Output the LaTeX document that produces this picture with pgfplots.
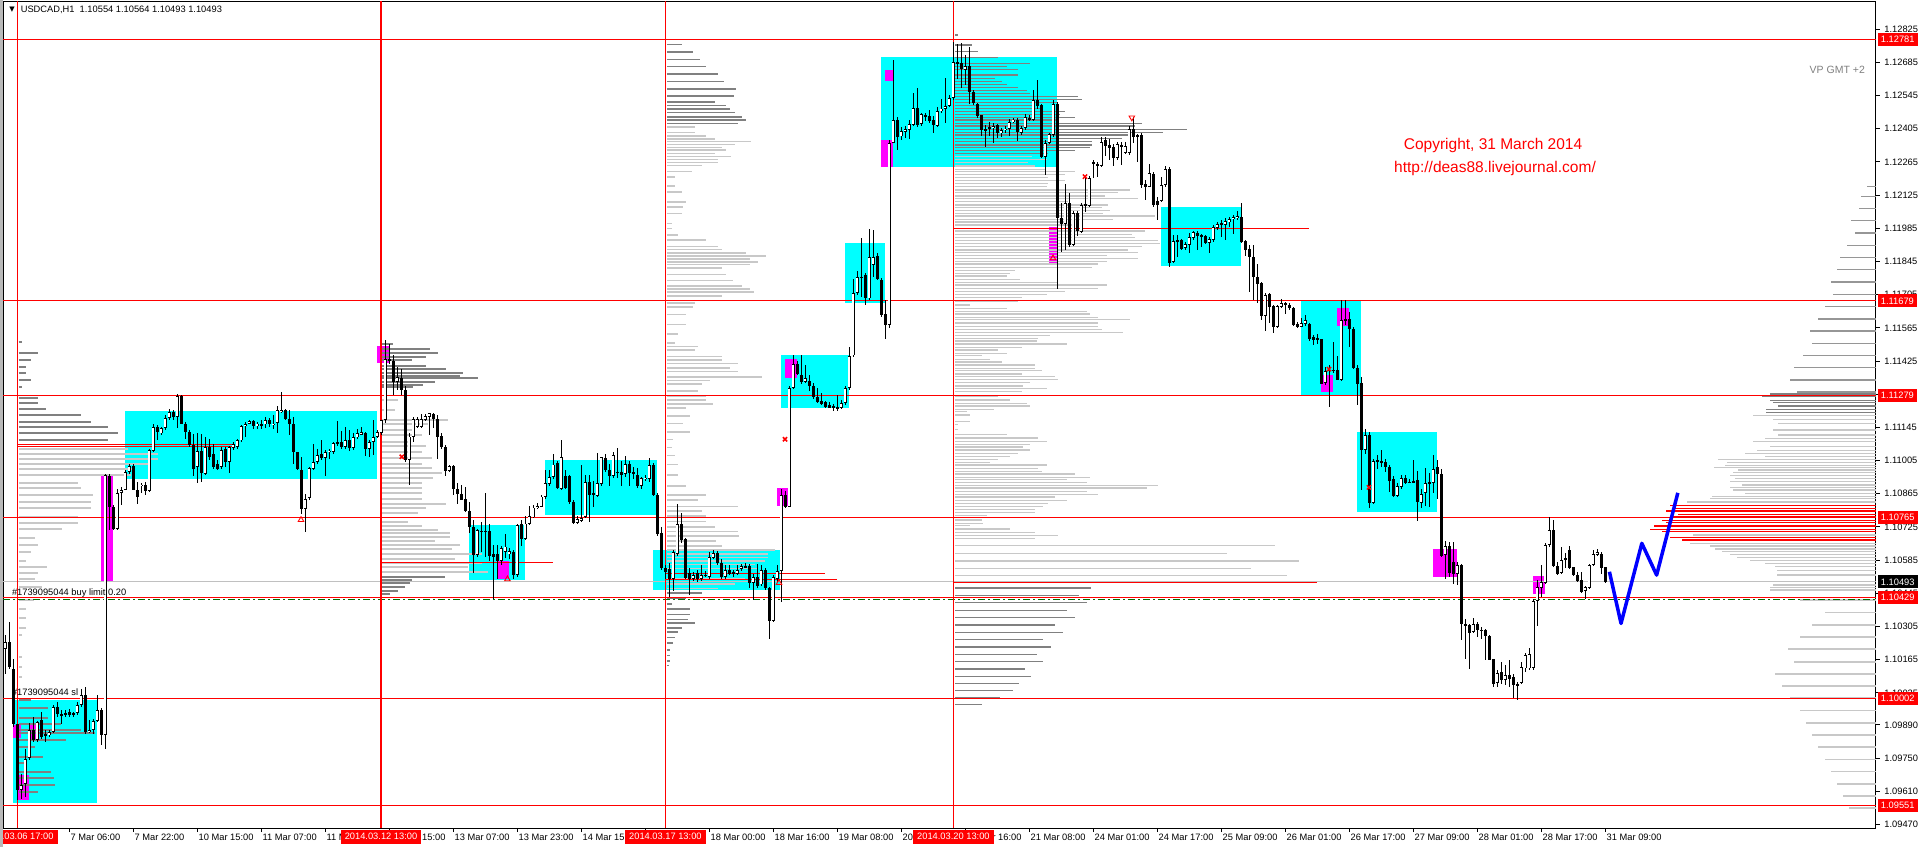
\documentclass[border=0pt]{standalone}
\usepackage{pgfplots}
\pgfplotsset{compat=1.18}
\usepackage{pgfplotstable}
\usepackage{fontspec}
\setmainfont{Liberation Sans}
\newfontfamily\dejavu{DejaVu Sans}
\definecolor{mtcyan}{RGB}{0,255,255}
\definecolor{mtmag}{RGB}{255,0,255}
\definecolor{vpdark}{RGB}{128,128,128}
\definecolor{vpmid}{RGB}{150,150,150}
\definecolor{vplight}{RGB}{200,200,200}
\definecolor{bidgray}{RGB}{192,192,192}
\definecolor{ordgreen}{RGB}{0,110,0}
\definecolor{mtred}{RGB}{255,0,0}
\definecolor{mtblue}{RGB}{0,0,255}
\newcommand{\lbl}{\fontsize{9.3bp}{11bp}\selectfont}

\pgfplotstableread{
k o h l c
0 1.10213 1.10269 1.10107 1.10241
1 1.10241 1.10325 1.10128 1.10135
2 1.10128 1.10171 1.09882 1.09896
3 1.09896 1.09896 1.09573 1.09615
4 1.09615 1.09685 1.09580 1.09636
5 1.09643 1.09791 1.09587 1.09749
6 1.09749 1.09896 1.09742 1.09868
7 1.09868 1.09924 1.09819 1.09826
8 1.09826 1.09910 1.09819 1.09903
9 1.09910 1.09946 1.09833 1.09840
10 1.09854 1.09868 1.09819 1.09843
11 1.09847 1.09868 1.09840 1.09861
12 1.09861 1.09974 1.09854 1.09967
13 1.09967 1.09988 1.09924 1.09939
14 1.09939 1.09953 1.09896 1.09929
15 1.09939 1.09953 1.09924 1.09932
16 1.09943 1.09960 1.09924 1.09934
17 1.09939 1.09946 1.09924 1.09932
18 1.09939 1.09988 1.09932 1.09974
19 1.09974 1.10044 1.09967 1.10016
20 1.10016 1.10051 1.09854 1.09861
21 1.09861 1.09910 1.09854 1.09871
22 1.09868 1.09917 1.09854 1.09908
23 1.09910 1.10016 1.09903 1.09953
24 1.09953 1.09960 1.09805 1.09847
25 1.09847 1.10951 1.09791 1.10944
26 1.10940 1.10951 1.10712 1.10810
27 1.10810 1.10817 1.10712 1.10719
28 1.10719 1.10888 1.10712 1.10869
29 1.10869 1.10895 1.10817 1.10883
30 1.10883 1.10965 1.10881 1.10958
31 1.10958 1.10993 1.10951 1.10982
32 1.10982 1.10993 1.10881 1.10883
33 1.10883 1.10916 1.10822 1.10852
34 1.10897 1.10912 1.10867 1.10904
35 1.10904 1.10916 1.10859 1.10878
36 1.10878 1.11056 1.10874 1.11049
37 1.11046 1.11162 1.11042 1.11148
38 1.11148 1.11155 1.11091 1.11127
39 1.11120 1.11148 1.11113 1.11141
40 1.11141 1.11197 1.11134 1.11183
41 1.11183 1.11225 1.11179 1.11211
42 1.11211 1.11218 1.11176 1.11190
43 1.11190 1.11288 1.11141 1.11277
44 1.11277 1.11284 1.11159 1.11162
45 1.11162 1.11169 1.11099 1.11127
46 1.11127 1.11134 1.11063 1.11070
47 1.11070 1.11120 1.10944 1.10972
48 1.10979 1.11120 1.10909 1.11046
49 1.11046 1.11120 1.10916 1.10951
50 1.10951 1.11106 1.10944 1.11063
51 1.11063 1.11099 1.11007 1.11021
52 1.11035 1.11077 1.10972 1.10979
53 1.10990 1.11010 1.10965 1.10972
54 1.10979 1.11063 1.10972 1.11052
55 1.11052 1.11063 1.10979 1.11000
56 1.11000 1.11070 1.10954 1.11063
57 1.11061 1.11084 1.11049 1.11075
58 1.11063 1.11099 1.11056 1.11091
59 1.11091 1.11155 1.11084 1.11151
60 1.11151 1.11169 1.11108 1.11159
61 1.11162 1.11179 1.11159 1.11173
62 1.11173 1.11179 1.11141 1.11151
63 1.11151 1.11169 1.11141 1.11162
64 1.11162 1.11176 1.11141 1.11153
65 1.11159 1.11190 1.11141 1.11176
66 1.11176 1.11187 1.11148 1.11159
67 1.11159 1.11197 1.11141 1.11162
68 1.11162 1.11235 1.11122 1.11218
69 1.11211 1.11294 1.11207 1.11218
70 1.11218 1.11225 1.11176 1.11183
71 1.11183 1.11221 1.11113 1.11162
72 1.11162 1.11190 1.10993 1.11042
73 1.11042 1.11042 1.10965 1.10968
74 1.10968 1.11021 1.10782 1.10803
75 1.10803 1.10867 1.10705 1.10845
76 1.10845 1.10979 1.10838 1.10972
77 1.10972 1.11077 1.10965 1.11000
78 1.11000 1.11056 1.10993 1.11028
79 1.11032 1.11094 1.11007 1.11018
80 1.11018 1.11049 1.10940 1.11042
81 1.11042 1.11056 1.11014 1.11049
82 1.11042 1.11084 1.11035 1.11080
83 1.11084 1.11173 1.11070 1.11080
84 1.11084 1.11131 1.11056 1.11063
85 1.11063 1.11148 1.11056 1.11094
86 1.11094 1.11134 1.11046 1.11061
87 1.11056 1.11122 1.11049 1.11103
88 1.11103 1.11141 1.11099 1.11120
89 1.11117 1.11148 1.11113 1.11127
90 1.11122 1.11127 1.11028 1.11056
91 1.11056 1.11091 1.11021 1.11084
92 1.11084 1.11176 1.11028 1.11106
93 1.11106 1.11134 1.11099 1.11127
94 1.11122 1.11179 1.11113 1.11176
95 1.11176 1.11516 1.11165 1.11432
96 1.11432 1.11499 1.11415 1.11426
97 1.11426 1.11450 1.11281 1.11338
98 1.11338 1.11401 1.11302 1.11359
99 1.11356 1.11394 1.11281 1.11302
100 1.11302 1.11319 1.11000 1.11007
101 1.11007 1.11122 1.10902 1.11106
102 1.11106 1.11190 1.11084 1.11179
103 1.11148 1.11190 1.11141 1.11179
104 1.11148 1.11204 1.11141 1.11179
105 1.11179 1.11204 1.11173 1.11193
106 1.11190 1.11207 1.11113 1.11204
107 1.11204 1.11207 1.11141 1.11179
108 1.11179 1.11197 1.11014 1.11106
109 1.11108 1.11122 1.11056 1.11063
110 1.11063 1.11070 1.10940 1.10962
111 1.10962 1.10986 1.10958 1.10982
112 1.10982 1.10986 1.10860 1.10888
113 1.10888 1.10909 1.10824 1.10864
114 1.10864 1.10902 1.10838 1.10841
115 1.10841 1.10895 1.10789 1.10793
116 1.10793 1.10831 1.10698 1.10726
117 1.10726 1.10754 1.10532 1.10606
118 1.10606 1.10715 1.10599 1.10712
119 1.10710 1.10748 1.10620 1.10703
120 1.10710 1.10869 1.10597 1.10703
121 1.10710 1.10740 1.10582 1.10605
122 1.10612 1.10650 1.10424 1.10600
123 1.10612 1.10650 1.10507 1.10582
124 1.10582 1.10646 1.10567 1.10635
125 1.10620 1.10695 1.10597 1.10643
126 1.10612 1.10635 1.10590 1.10624
127 1.10620 1.10627 1.10507 1.10522
128 1.10522 1.10740 1.10514 1.10733
129 1.10736 1.10756 1.10643 1.10673
130 1.10673 1.10771 1.10673 1.10740
131 1.10740 1.10816 1.10733 1.10771
132 1.10766 1.10816 1.10763 1.10808
133 1.10808 1.10828 1.10801 1.10813
134 1.10811 1.10861 1.10808 1.10854
135 1.10854 1.10967 1.10846 1.10909
136 1.10906 1.10967 1.10899 1.10936
137 1.10936 1.11034 1.10929 1.10989
138 1.10997 1.11004 1.10884 1.10891
139 1.10887 1.11092 1.10881 1.11019
140 1.10941 1.10967 1.10884 1.10891
141 1.10941 1.10944 1.10823 1.10831
142 1.10831 1.10838 1.10740 1.10744
143 1.10744 1.10771 1.10740 1.10759
144 1.10751 1.10989 1.10748 1.10766
145 1.10766 1.10944 1.10763 1.10914
146 1.10914 1.10944 1.10748 1.10861
147 1.10869 1.10921 1.10808 1.10861
148 1.10857 1.11037 1.10854 1.10909
149 1.10906 1.11022 1.10899 1.11019
150 1.11019 1.11034 1.10959 1.10967
151 1.10967 1.10989 1.10899 1.10941
152 1.10941 1.11042 1.10932 1.11030
153 1.10959 1.11061 1.10932 1.10954
154 1.10956 1.11004 1.10899 1.10944
155 1.10947 1.11027 1.10936 1.10989
156 1.10989 1.11004 1.10899 1.10951
157 1.10956 1.10977 1.10929 1.10947
158 1.10947 1.10974 1.10891 1.10899
159 1.10899 1.10936 1.10884 1.10932
160 1.10929 1.10944 1.10921 1.10932
161 1.10929 1.11016 1.10917 1.10986
162 1.10986 1.10997 1.10857 1.10861
163 1.10861 1.10869 1.10688 1.10695
164 1.10703 1.10725 1.10545 1.10552
165 1.10552 1.10567 1.10507 1.10537
166 1.10549 1.10575 1.10431 1.10507
167 1.10507 1.10627 1.10454 1.10620
168 1.10612 1.10823 1.10605 1.10736
169 1.10736 1.10786 1.10658 1.10670
170 1.10673 1.10680 1.10507 1.10510
171 1.10529 1.10552 1.10439 1.10507
172 1.10507 1.10537 1.10499 1.10525
173 1.10529 1.10545 1.10492 1.10507
174 1.10507 1.10564 1.10499 1.10522
175 1.10525 1.10540 1.10514 1.10519
176 1.10514 1.10620 1.10507 1.10597
177 1.10597 1.10627 1.10590 1.10615
178 1.10615 1.10624 1.10567 1.10575
179 1.10575 1.10590 1.10507 1.10513
180 1.10513 1.10567 1.10507 1.10545
181 1.10545 1.10567 1.10525 1.10529
182 1.10534 1.10545 1.10514 1.10525
183 1.10529 1.10567 1.10522 1.10545
184 1.10549 1.10570 1.10540 1.10560
185 1.10560 1.10575 1.10554 1.10557
186 1.10560 1.10567 1.10469 1.10489
187 1.10489 1.10529 1.10416 1.10514
188 1.10514 1.10567 1.10469 1.10477
189 1.10484 1.10564 1.10477 1.10545
190 1.10545 1.10552 1.10462 1.10469
191 1.10469 1.10474 1.10251 1.10329
192 1.10329 1.10522 1.10326 1.10514
193 1.10507 1.10567 1.10492 1.10540
194 1.10540 1.10884 1.10409 1.10861
195 1.10861 1.10876 1.10808 1.10811
196 1.10811 1.11321 1.10808 1.11313
197 1.11313 1.11449 1.11305 1.11414
198 1.11414 1.11426 1.11366 1.11373
199 1.11366 1.11449 1.11328 1.11336
200 1.11336 1.11411 1.11333 1.11354
201 1.11343 1.11366 1.11298 1.11321
202 1.11321 1.11336 1.11268 1.11272
203 1.11272 1.11313 1.11248 1.11253
204 1.11257 1.11290 1.11238 1.11245
205 1.11253 1.11257 1.11227 1.11233
206 1.11242 1.11253 1.11227 1.11230
207 1.11238 1.11245 1.11215 1.11227
208 1.11233 1.11283 1.11215 1.11227
209 1.11227 1.11260 1.11223 1.11248
210 1.11248 1.11321 1.11242 1.11313
211 1.11313 1.11486 1.11305 1.11449
212 1.11449 1.11773 1.11444 1.11712
213 1.11712 1.11803 1.11705 1.11780
214 1.11781 1.11943 1.11697 1.11779
215 1.11788 1.11795 1.11662 1.11690
216 1.11690 1.11981 1.11683 1.11866
217 1.11831 1.11978 1.11781 1.11866
218 1.11869 1.11880 1.11767 1.11770
219 1.11770 1.11774 1.11613 1.11620
220 1.11624 1.11683 1.11521 1.11578
221 1.11578 1.12358 1.11563 1.12347
222 1.12347 1.12698 1.12344 1.12442
223 1.12442 1.12456 1.12316 1.12372
224 1.12372 1.12414 1.12358 1.12393
225 1.12393 1.12417 1.12365 1.12403
226 1.12400 1.12442 1.12361 1.12425
227 1.12421 1.12555 1.12417 1.12496
228 1.12496 1.12576 1.12414 1.12421
229 1.12425 1.12473 1.12417 1.12466
230 1.12466 1.12473 1.12439 1.12456
231 1.12459 1.12484 1.12428 1.12439
232 1.12442 1.12459 1.12386 1.12421
233 1.12417 1.12496 1.12411 1.12482
234 1.12482 1.12531 1.12470 1.12491
235 1.12491 1.12618 1.12428 1.12501
236 1.12501 1.12548 1.12496 1.12534
237 1.12534 1.12773 1.12527 1.12688
238 1.12688 1.12766 1.12618 1.12681
239 1.12681 1.12768 1.12576 1.12656
240 1.12656 1.12716 1.12590 1.12670
241 1.12670 1.12752 1.12512 1.12562
242 1.12562 1.12569 1.12505 1.12512
243 1.12510 1.12516 1.12449 1.12459
244 1.12463 1.12466 1.12375 1.12400
245 1.12403 1.12421 1.12330 1.12397
246 1.12414 1.12435 1.12375 1.12407
247 1.12411 1.12428 1.12347 1.12417
248 1.12421 1.12425 1.12369 1.12389
249 1.12389 1.12407 1.12372 1.12400
250 1.12400 1.12417 1.12386 1.12407
251 1.12407 1.12445 1.12375 1.12435
252 1.12435 1.12453 1.12428 1.12445
253 1.12445 1.12448 1.12351 1.12393
254 1.12389 1.12417 1.12379 1.12407
255 1.12407 1.12466 1.12400 1.12453
256 1.12453 1.12463 1.12439 1.12445
257 1.12445 1.12569 1.12439 1.12527
258 1.12527 1.12611 1.12487 1.12501
259 1.12505 1.12510 1.12281 1.12288
260 1.12288 1.12358 1.12210 1.12344
261 1.12344 1.12389 1.12341 1.12383
262 1.12379 1.12527 1.12372 1.12510
263 1.12510 1.12520 1.11732 1.12027
264 1.12027 1.12091 1.11887 1.12004
265 1.12004 1.12175 1.11894 1.12091
266 1.12091 1.12133 1.11908 1.11915
267 1.11915 1.12060 1.11911 1.12051
268 1.12051 1.12060 1.11953 1.11975
269 1.11971 1.12091 1.11964 1.12084
270 1.12088 1.12203 1.12056 1.12082
271 1.12082 1.12206 1.12077 1.12200
272 1.12266 1.12274 1.12200 1.12257
273 1.12259 1.12266 1.12200 1.12250
274 1.12250 1.12372 1.12245 1.12351
275 1.12358 1.12369 1.12290 1.12333
276 1.12337 1.12365 1.12274 1.12323
277 1.12330 1.12341 1.12248 1.12281
278 1.12281 1.12351 1.12274 1.12341
279 1.12337 1.12351 1.12252 1.12330
280 1.12302 1.12351 1.12299 1.12333
281 1.12302 1.12417 1.12295 1.12403
282 1.12403 1.12456 1.12347 1.12372
283 1.12379 1.12386 1.12266 1.12372
284 1.12379 1.12386 1.12154 1.12168
285 1.12175 1.12189 1.12105 1.12161
286 1.12161 1.12257 1.12158 1.12217
287 1.12217 1.12224 1.12077 1.12084
288 1.12102 1.12119 1.12020 1.12084
289 1.12102 1.12203 1.12098 1.12168
290 1.12168 1.12248 1.12161 1.12234
291 1.12238 1.12245 1.11824 1.11840
292 1.11845 1.11957 1.11838 1.11933
293 1.11936 1.11957 1.11866 1.11929
294 1.11936 1.11943 1.11894 1.11901
295 1.11901 1.11929 1.11894 1.11919
296 1.11915 1.11964 1.11883 1.11947
297 1.11947 1.11975 1.11936 1.11971
298 1.11964 1.11975 1.11894 1.11953
299 1.11957 1.11964 1.11908 1.11950
300 1.11953 1.11957 1.11919 1.11922
301 1.11922 1.11947 1.11880 1.11939
302 1.11936 1.11999 1.11929 1.11992
303 1.11989 1.12013 1.11978 1.12006
304 1.12009 1.12020 1.11950 1.11999
305 1.11999 1.12027 1.11936 1.12016
306 1.12013 1.12032 1.11992 1.12023
307 1.12023 1.12041 1.11964 1.12032
308 1.12032 1.12056 1.12020 1.12037
309 1.12034 1.12093 1.11925 1.11929
310 1.11933 1.11936 1.11869 1.11894
311 1.11897 1.11915 1.11718 1.11863
312 1.11863 1.11915 1.11683 1.11779
313 1.11779 1.11835 1.11672 1.11753
314 1.11756 1.11760 1.11599 1.11616
315 1.11616 1.11711 1.11554 1.11704
316 1.11708 1.11714 1.11585 1.11655
317 1.11658 1.11662 1.11545 1.11568
318 1.11571 1.11662 1.11563 1.11658
319 1.11655 1.11686 1.11648 1.11672
320 1.11672 1.11676 1.11624 1.11662
321 1.11662 1.11669 1.11641 1.11648
322 1.11648 1.11652 1.11573 1.11578
323 1.11582 1.11592 1.11563 1.11568
324 1.11571 1.11606 1.11568 1.11587
325 1.11585 1.11620 1.11573 1.11599
326 1.11582 1.11585 1.11511 1.11517
327 1.11525 1.11535 1.11493 1.11514
328 1.11525 1.11540 1.11497 1.11517
329 1.11517 1.11521 1.11329 1.11331
330 1.11331 1.11402 1.11324 1.11381
331 1.11390 1.11409 1.11233 1.11385
332 1.11390 1.11507 1.11374 1.11385
333 1.11387 1.11447 1.11345 1.11348
334 1.11345 1.11682 1.11342 1.11598
335 1.11602 1.11682 1.11577 1.11594
336 1.11602 1.11633 1.11485 1.11563
337 1.11563 1.11570 1.11394 1.11398
338 1.11398 1.11408 1.11239 1.11331
339 1.11331 1.11359 1.10883 1.11052
340 1.11052 1.11141 1.11035 1.11113
341 1.11113 1.11127 1.10803 1.10827
342 1.10827 1.11014 1.10824 1.11004
343 1.11007 1.11028 1.10972 1.10999
344 1.11003 1.11049 1.10979 1.10997
345 1.10999 1.11014 1.10958 1.10979
346 1.10979 1.10986 1.10874 1.10920
347 1.10926 1.10940 1.10852 1.10855
348 1.10855 1.10909 1.10852 1.10898
349 1.10895 1.10944 1.10888 1.10934
350 1.10934 1.10944 1.10909 1.10912
351 1.10916 1.10930 1.10909 1.10912
352 1.10919 1.11010 1.10909 1.10913
353 1.10923 1.10962 1.10751 1.10832
354 1.10827 1.10888 1.10808 1.10867
355 1.10867 1.10976 1.10813 1.10912
356 1.10916 1.10954 1.10810 1.10909
357 1.10912 1.11028 1.10869 1.10972
358 1.10976 1.11007 1.10846 1.10948
359 1.10951 1.10972 1.10599 1.10606
360 1.10606 1.10667 1.10508 1.10645
361 1.10645 1.10663 1.10515 1.10529
362 1.10578 1.10663 1.10487 1.10529
363 1.10529 1.10578 1.10480 1.10564
364 1.10564 1.10571 1.10248 1.10318
365 1.10318 1.10339 1.10171 1.10308
366 1.10311 1.10318 1.10128 1.10279
367 1.10283 1.10339 1.10279 1.10318
368 1.10318 1.10325 1.10262 1.10290
369 1.10293 1.10304 1.10255 1.10287
370 1.10293 1.10297 1.10166 1.10265
371 1.10265 1.10269 1.10164 1.10166
372 1.10166 1.10171 1.10051 1.10062
373 1.10068 1.10121 1.10051 1.10110
374 1.10114 1.10157 1.10065 1.10079
375 1.10079 1.10143 1.10058 1.10100
376 1.10100 1.10164 1.10051 1.10086
377 1.10093 1.10107 1.10002 1.10058
378 1.10065 1.10072 1.09995 1.10058
379 1.10068 1.10157 1.10065 1.10136
380 1.10129 1.10195 1.10114 1.10185
381 1.10129 1.10213 1.10124 1.10189
382 1.10133 1.10424 1.10122 1.10414
383 1.10414 1.10501 1.10307 1.10470
384 1.10470 1.10564 1.10431 1.10494
385 1.10490 1.10656 1.10487 1.10649
386 1.10649 1.10768 1.10642 1.10712
387 1.10712 1.10754 1.10557 1.10560
388 1.10560 1.10578 1.10522 1.10529
389 1.10532 1.10642 1.10529 1.10588
390 1.10597 1.10614 1.10550 1.10588
391 1.10630 1.10645 1.10550 1.10555
392 1.10555 1.10557 1.10518 1.10522
393 1.10526 1.10536 1.10494 1.10497
394 1.10501 1.10536 1.10445 1.10452
395 1.10456 1.10480 1.10424 1.10470
396 1.10466 1.10571 1.10462 1.10564
397 1.10564 1.10630 1.10560 1.10611
398 1.10607 1.10630 1.10602 1.10621
399 1.10614 1.10621 1.10529 1.10555
400 1.10555 1.10557 1.10490 1.10494
}\candles

% volume profile P1 (anchored at 06.03 17:00)
\pgfplotstableread{
p len
1.11506 0.8
1.11460 4.8
1.11429 3.0
1.11401 1.9
1.11375 1.9
1.11345 3.0
1.11314 0.8
1.11271 4.8
1.11246 4.8
1.11221 6.9
1.11197 15.7
1.11169 18.0
1.11145 22.3
1.11120 24.8
1.11094 22.3
1.09995 3.0
1.09960 7.3
1.09918 7.3
1.09894 10.7
1.09868 15.7
1.09854 19.0
1.09826 11.9
1.09798 4.0
1.09756 6.1
1.09728 1.9
1.09693 8.0
1.09664 8.8
1.09636 9.0
1.09608 4.8
}\pAd
\pgfplotstableread{
p len
1.11052 27.3
1.11032 34.8
1.11010 34.8
1.10990 32.3
1.10968 29.0
1.10944 28.2
1.10911 14.8
1.10888 15.7
1.10860 18.6
1.10831 18.2
1.10803 18.2
1.10768 14.8
1.10740 14.8
1.10715 10.8
1.10677 4.0
1.10649 4.8
1.10620 3.0
1.10583 1.9
1.10557 7.0
1.10529 4.8
1.10504 4.0
1.10473 5.8
1.10417 3.8
1.10381 1.9
1.10339 1.9
1.10297 1.9
1.10269 0.8
1.10178 0.8
1.10135 0.8
1.10093 0.8
}\pAl
% P2
\pgfplotstableread{
p len
1.11499 2.7
1.11474 11.8
1.11460 13.9
1.11443 11.0
1.11429 7.3
1.11404 11.0
1.11390 16.0
1.11375 20.2
1.11364 19.3
1.11352 23.9
1.11338 13.1
1.11323 10.2
1.11314 7.7
1.10515 15.6
1.10501 7.3
1.10487 6.8
1.10473 5.6
1.10456 3.9
1.10442 1.8
}\pBd
\pgfplotstableread{
p len
1.11260 3.9
1.11218 3.1
1.11176 16.4
1.11159 11.4
1.11136 8.1
1.11113 9.8
1.11084 6.8
1.11066 11.0
1.11042 9.8
1.11018 12.3
1.10990 9.8
1.10972 12.3
1.10951 14.8
1.10930 12.7
1.10911 9.8
1.10888 9.8
1.10867 9.8
1.10845 9.8
1.10822 16.0
1.10803 11.0
1.10782 8.9
1.10747 6.4
1.10729 9.8
1.10712 13.9
1.10698 16.8
1.10681 16.8
1.10667 13.1
1.10649 19.3
1.10630 17.3
1.10613 24.8
1.10592 18.1
1.10571 24.8
1.10557 21.4
1.10536 26.4
}\pBl
% P3
\pgfplotstableread{
p len
1.12760 3.9
1.12729 6.6
1.12698 8.2
1.12667 9.7
1.12636 12.8
1.12605 14.3
1.12574 17.3
1.12543 16.7
1.12518 12.0
1.12503 14.9
1.12488 15.7
1.12473 17.0
1.12454 18.9
1.12443 19.9
1.12428 17.8
1.10447 8.7
1.10424 4.9
1.10401 1.2
1.10379 5.7
1.10356 5.7
1.10334 5.3
1.10319 7.0
1.10299 3.7
1.10281 2.8
1.10258 2.0
1.10236 1.6
1.10206 0.8
1.10183 0.8
1.10160 0.8
1.10140 0.5
}\pCd
\pgfplotstableread{
p len
1.12413 7.0
1.12390 7.0
1.12375 9.9
1.12363 12.0
1.12351 21.0
1.12338 17.0
1.12326 13.8
1.12315 14.9
1.12300 12.0
1.12288 16.0
1.12276 12.8
1.12262 12.8
1.12250 8.7
1.12225 6.2
1.12202 2.0
1.12164 2.0
1.12137 3.7
1.12097 4.9
1.12074 4.1
1.12047 3.7
1.12006 1.2
1.11984 1.2
1.11956 2.8
1.11935 9.9
1.11908 12.8
1.11896 13.7
1.11881 19.9
1.11868 24.9
1.11855 20.7
1.11843 22.8
1.11833 20.7
1.11818 13.7
1.11791 14.9
1.11765 16.6
1.11742 18.9
1.11730 20.7
1.11717 21.8
1.11700 13.7
1.11670 7.0
1.11652 6.6
1.11622 4.9
1.11580 4.9
1.11539 2.8
1.11501 2.0
1.11486 7.8
1.11471 7.0
1.11444 13.8
1.11429 13.7
1.11414 17.8
1.11396 15.7
1.11381 17.8
1.11358 23.7
1.11343 10.7
1.11328 8.8
1.11298 7.8
1.11278 9.9
1.11260 9.9
1.11245 11.6
1.11227 4.9
1.11193 5.7
1.11162 4.1
1.11125 5.7
1.11094 1.6
1.11061 1.2
1.11027 2.0
1.10989 2.8
1.10944 2.8
1.10899 4.9
1.10861 9.9
1.10838 7.8
1.10811 17.8
1.10793 8.7
1.10771 9.9
1.10748 9.7
1.10725 12.0
1.10706 17.8
1.10688 18.0
1.10665 12.4
1.10646 13.7
1.10627 27.0
1.10612 25.3
1.10597 25.3
1.10582 24.5
1.10567 22.0
1.10549 22.8
1.10507 19.5
1.10484 17.0
1.10465 12.8
}\pCl
% P4
\pgfplotstableread{
p len
1.12801 0.8
1.12759 4.2
1.12730 5.8
1.12707 10.8
1.12681 18.8
1.12667 12.9
1.12656 15.8
1.12632 15.8
1.12618 10.0
1.12604 11.7
1.12593 12.9
1.12579 15.8
1.12566 17.9
1.12555 18.7
1.12541 30.8
1.12529 31.7
1.12517 25.8
1.12504 20.0
1.12491 21.7
1.12477 27.5
1.12466 26.2
1.12453 30.0
1.12442 25.8
1.12428 46.7
1.12417 45.0
1.12403 57.9
1.12390 52.1
1.12379 43.3
1.12365 41.7
1.12351 34.2
1.12337 34.2
1.12325 33.7
1.12313 30.0
1.12302 23.3
1.10467 34.0
1.10436 31.0
1.10405 33.0
1.10374 28.0
1.10343 30.0
1.10312 25.0
1.10281 27.0
1.10250 22.0
1.10219 24.0
1.10188 20.5
1.10157 22.0
1.10126 17.5
1.10095 19.0
1.10064 16.0
1.10034 14.4
1.10003 11.3
1.09977 6.7
}\pDd
\pgfplotstableread{
p len
1.12288 19.2
1.12274 22.9
1.12262 18.3
1.12248 20.0
1.12234 22.5
1.12224 30.0
1.12213 27.5
1.12200 23.3
1.12186 27.5
1.12175 23.3
1.12161 22.9
1.12147 43.7
1.12136 40.8
1.12122 37.5
1.12112 45.8
1.12098 28.3
1.12084 38.3
1.12072 36.7
1.12060 38.7
1.12049 37.1
1.12037 50.0
1.12023 39.6
1.12012 27.9
1.11999 30.0
1.11985 41.7
1.11974 47.5
1.11960 44.2
1.11947 45.0
1.11933 50.8
1.11922 51.2
1.11908 46.7
1.11894 43.3
1.11883 45.8
1.11870 37.9
1.11859 45.8
1.11845 37.9
1.11834 35.8
1.11819 34.2
1.11807 15.0
1.11795 13.7
1.11784 12.9
1.11770 16.2
1.11757 25.8
1.11746 37.9
1.11732 35.8
1.11718 27.5
1.11707 22.9
1.11693 16.7
1.11676 15.8
1.11662 3.7
1.11648 12.9
1.11634 32.9
1.11623 33.7
1.11610 35.8
1.11599 43.7
1.11585 35.8
1.11571 35.8
1.11559 36.7
1.11545 42.1
1.11534 23.7
1.11521 20.8
1.11510 20.4
1.11497 27.9
1.11483 16.7
1.11472 10.8
1.11458 12.9
1.11447 6.8
1.11433 8.7
1.11421 11.7
1.11409 20.0
1.11395 20.0
1.11385 21.7
1.11371 16.7
1.11360 25.0
1.11346 25.8
1.11334 18.7
1.11320 17.1
1.11310 22.9
1.11296 16.7
1.11275 10.8
1.11261 13.7
1.11247 17.9
1.11236 18.7
1.11222 9.8
1.11212 2.9
1.11198 3.7
1.11170 3.7
1.11156 0.8
1.11135 0.8
1.11114 12.9
1.11100 20.8
1.11085 22.9
1.11074 18.7
1.11062 17.1
1.11050 18.7
1.11036 15.8
1.11022 13.7
1.11011 10.8
1.10997 8.7
1.10986 22.9
1.10973 20.8
1.10959 21.7
1.10949 30.0
1.10935 33.7
1.10924 27.9
1.10913 32.9
1.10900 50.8
1.10889 47.9
1.10875 32.9
1.10863 35.8
1.10851 25.0
1.10837 27.9
1.10825 23.3
1.10811 22.1
1.10800 20.0
1.10786 20.0
1.10772 7.9
1.10755 6.7
1.10741 7.1
1.10730 3.7
1.10716 13.7
1.10703 20.0
1.10689 25.8
1.10676 20.0
1.10648 80.0
1.10612 68.0
1.10581 86.0
1.10550 74.0
1.10519 83.0
}\pDl
% P5 (right edge, s = start)
\pgfplotstableread{
p s
1.12161 465.6
1.12120 464.1
1.12068 463.4
1.12017 461.6
1.11965 462.5
1.11913 460.4
1.11862 458.8
1.11810 457.9
1.11758 456.4
1.11707 457.0
1.11655 454.9
1.11603 453.3
1.11552 451.2
1.11500 451.8
1.11448 449.4
1.11397 447.2
1.11345 446.3
1.11294 448.1
}\pEup
\pgfplotstableread{
p s
1.11286 441.2
1.11274 439.2
1.11260 441.2
1.11249 442.1
1.11235 443.3
1.11221 440.2
1.11208 440.2
}\pEd
\pgfplotstableread{
p s
1.11197 437.1
1.11179 442.1
1.11162 443.3
1.11134 442.1
1.11113 443.3
1.11099 440.0
1.11085 437.1
1.11063 441.2
1.11049 437.9
1.11035 435.0
1.11021 440.0
1.11010 428.3
1.10997 430.4
1.10986 430.0
1.10976 427.2
1.10965 433.3
1.10954 432.1
1.10941 431.2
1.10930 432.5
1.10916 431.2
1.10902 434.2
1.10891 431.2
1.10881 432.1
1.10867 435.0
1.10855 426.7
1.10844 426.2
1.10830 420.4
1.10691 422.1
1.10656 421.2
1.10645 426.2
1.10632 427.5
1.10621 429.2
1.10609 431.2
1.10597 432.9
1.10585 436.2
1.10571 440.0
1.10557 442.5
1.10543 442.9
1.10522 442.9
1.10494 439.2
1.10480 442.1
1.10470 441.2
1.10459 441.2
}\pEl
\pgfplotstableread{
p s
1.10817 416.2
1.10803 417.1
1.10792 415.2
1.10779 418.3
1.10768 417.1
1.10754 414.2
1.10743 415.2
1.10729 412.2
1.10716 411.2
1.10705 414.2
1.10681 416.2
1.10670 419.2
}\pEr
\pgfplotstableread{
p s
1.10416 448.7
1.10364 454.9
1.10312 451.8
1.10261 448.7
1.10209 445.7
1.10157 447.2
1.10106 442.6
1.10054 444.2
1.10003 446.3
1.09951 448.7
1.09899 450.3
1.09848 451.8
1.09796 453.3
1.09744 454.9
1.09693 456.4
1.09641 457.9
1.09590 459.5
1.09538 461.0
}\pElo

\newcommand{\rbox}[5]{\addplot[fill=#5, draw=none, forget plot] coordinates {(#1,#3) (#2,#3) (#2,#4) (#1,#4)} --cycle;}
\newcommand{\hseg}[4]{\addplot[#4, forget plot] coordinates {(#1,#3) (#2,#3)};}
\newcommand{\vprof}[4]{\addplot[draw=none, mark=none, forget plot, error bars/.cd, x dir=plus, x explicit, error mark=none, error bar style={draw=#3, line width=#4}] table[x expr=#1, y=p, x error=len] {#2};}
\newcommand{\vprofr}[3]{\addplot[draw=none, mark=none, forget plot, error bars/.cd, x dir=minus, x explicit, error mark=none, error bar style={draw=#2, line width=#3}] table[x expr=467.675, y=p, x error expr={467.675-\thisrow{s}}] {#1};}

\tikzset{
  pbox/.style={anchor=west, xshift=1.6bp, fill=mtred, text=white, font=\lbl, inner xsep=3.4bp, inner ysep=0pt, minimum height=13bp},
  tbox/.style={anchor=north, yshift=-1.5bp, fill=mtred, text=white, font=\lbl, inner xsep=4bp, inner ysep=0pt, minimum height=14bp}
}

\begin{document}
\begin{tikzpicture}
\useasboundingbox (0,0) rectangle (1920bp,847bp);
\fill[white] (0,0) rectangle (1920bp,847bp);
\begin{axis}[
  at={(3.3bp,19bp)}, anchor=south west,
  scale only axis, width=1872.4bp, height=826.5bp,
  xmin=-0.425, xmax=467.675, ymin=1.09455, ymax=1.12942,
  clip=false,
  axis line style={black, line width=1bp},
  xtick={16,32,...,400},
  xticklabels={7 Mar 06:00,7 Mar 22:00,10 Mar 15:00,11 Mar 07:00,11 Mar 23:00,12 Mar 15:00,13 Mar 07:00,13 Mar 23:00,14 Mar 15:00,17 Mar 07:00,18 Mar 00:00,18 Mar 16:00,19 Mar 08:00,20 Mar 00:00,20 Mar 16:00,21 Mar 08:00,24 Mar 01:00,24 Mar 17:00,25 Mar 09:00,26 Mar 01:00,26 Mar 17:00,27 Mar 09:00,28 Mar 01:00,28 Mar 17:00,31 Mar 09:00},
  ytick={1.12825,1.12685,1.12545,1.12405,1.12265,1.12125,1.11985,1.11845,1.11705,1.11565,1.11425,1.11285,1.11145,1.11005,1.10865,1.10725,1.10585,1.10445,1.10305,1.10165,1.10025,1.09890,1.09750,1.09610,1.09470},
  yticklabels={1.12825,1.12685,1.12545,1.12405,1.12265,1.12125,1.11985,1.11845,1.11705,1.11565,1.11425,1.11285,1.11145,1.11005,1.10865,1.10725,1.10585,1.10445,1.10305,1.10165,1.10025,1.09890,1.09750,1.09610,1.09470},
  xtick pos=left, ytick pos=right, yticklabel pos=right,
  tick align=outside, major tick length=4bp,
  tick style={black, line width=1bp},
  xticklabel style={font=\lbl, anchor=west, inner sep=0pt, yshift=-5.5bp, xshift=1.5bp},
  yticklabel style={font=\lbl, anchor=west, inner sep=0pt, xshift=4.5bp},
  scaled y ticks=false, scaled x ticks=false,
]
% cyan boxes
\rbox{1.9}{22.9}{1.09559}{1.09995}{mtcyan}
\rbox{30.0}{92.9}{1.10927}{1.11214}{mtcyan}
\rbox{116}{130}{1.10502}{1.10733}{mtcyan}
\rbox{135}{162.9}{1.10775}{1.11007}{mtcyan}
\rbox{162}{193.7}{1.10459}{1.10627}{mtcyan}
\rbox{194}{211}{1.11227}{1.11450}{mtcyan}
\rbox{210}{220}{1.11669}{1.11925}{mtcyan}
\rbox{219}{262.9}{1.12245}{1.12709}{mtcyan}
\rbox{289}{309}{1.11828}{1.12074}{mtcyan}
\rbox{324}{338.9}{1.11280}{1.11679}{mtcyan}
\rbox{338}{357.9}{1.10789}{1.11125}{mtcyan}
% magenta boxes
\rbox{24}{26.9}{1.10498}{1.10944}{mtmag}
\rbox{2.1}{3.9}{1.09833}{1.09889}{mtmag}
\rbox{3.1}{5.9}{1.09573}{1.09678}{mtmag}
\rbox{5.9}{7.9}{1.09826}{1.09896}{mtmag}
\rbox{92.9}{96.1}{1.11415}{1.11488}{mtmag}
\rbox{123}{126}{1.10507}{1.10582}{mtmag}
\rbox{193}{196}{1.10813}{1.10891}{mtmag}
\rbox{195}{198}{1.11354}{1.11434}{mtmag}
\rbox{220}{222}{1.12608}{1.12653}{mtmag}
\rbox{219}{222}{1.12245}{1.12358}{mtmag}
\rbox{261}{263}{1.11835}{1.11989}{mtmag}
\rbox{333}{336}{1.11572}{1.11650}{mtmag}
\rbox{329}{332}{1.11295}{1.11366}{mtmag}
\rbox{357}{363}{1.10515}{1.10632}{mtmag}
\rbox{382}{385}{1.10442}{1.10518}{mtmag}
% volume profiles (start just right of their vertical lines)
\vprof{3.4}{\pAd}{vpdark}{2bp}
\vprof{3.4}{\pAl}{vplight}{2bp}
\vprof{94.35}{\pBd}{vpdark}{2bp}
\vprof{94.35}{\pBl}{vplight}{2bp}
\vprof{165.45}{\pCd}{vpdark}{1.6bp}
\vprof{165.45}{\pCl}{vplight}{1.6bp}
\vprof{237.5}{\pDd}{vpdark}{1.3bp}
\vprof{237.5}{\pDl}{vplight}{1.3bp}
\vprofr{\pEup}{vpmid}{1.3bp}
\vprofr{\pEd}{vpdark}{1.2bp}
\vprofr{\pEl}{vplight}{1.2bp}
\vprofr{\pEr}{mtred}{1.2bp}
\vprofr{\pElo}{vplight}{1.8bp}
% horizontal lines
\hseg{-0.425}{467.675}{1.10493}{bidgray, line width=1bp}
\hseg{-0.425}{467.675}{1.10421}{ordgreen, line width=1bp, dash pattern=on 7bp off 3bp on 2bp off 3bp}
\hseg{-0.425}{467.675}{1.12781}{mtred, line width=1bp}
\hseg{-0.425}{467.675}{1.11679}{mtred, line width=1bp}
\hseg{-0.425}{467.675}{1.11279}{mtred, line width=1bp}
\hseg{-0.425}{467.675}{1.10765}{mtred, line width=1bp}
\hseg{-0.425}{467.675}{1.10429}{mtred, line width=1bp}
\hseg{-0.425}{467.675}{1.10002}{mtred, line width=1bp}
\hseg{-0.425}{467.675}{1.09551}{mtred, line width=1bp}
\hseg{3.1}{57}{1.11075}{mtred, line width=1bp}
\hseg{3.1}{57}{1.11063}{mtred, line width=1bp}
\hseg{94}{137}{1.10575}{mtred, line width=1bp}
\hseg{165}{205}{1.10529}{mtred, line width=1bp}
\hseg{165}{208}{1.10504}{mtred, line width=1bp}
\hseg{237}{326}{1.11985}{mtred, line width=1bp}
\hseg{237}{328}{1.10491}{mtred, line width=1bp}
% vertical lines (error-bar style so they sit above the profile lines)
\addplot[draw=none, mark=none, forget plot, error bars/.cd, y dir=both, y explicit, error mark=none, error bar style={draw=mtred, line width=1.2bp}]
  table[x=k, y=m, y error=e] {
k m e
3.08 1.111985 0.017435
94.0 1.111985 0.017435
165.1 1.111985 0.017435
237.1 1.111985 0.017435
};
% candles: wicks, bodies, white interiors
\addplot[draw=none, mark=none, forget plot, error bars/.cd, y dir=both, y explicit, error mark=none, error bar style={draw=black, line width=1bp}]
  table[x=k, y expr={(\thisrow{h}+\thisrow{l})/2}, y error expr={(\thisrow{h}-\thisrow{l})/2}] {\candles};
\addplot[draw=none, mark=none, forget plot, error bars/.cd, y dir=both, y explicit, error mark=none, error bar style={draw=black, line width=3bp}]
  table[x=k, y expr={(\thisrow{o}+\thisrow{c})/2}, y error expr={max(abs(\thisrow{o}-\thisrow{c})/2,0.000012)}] {\candles};
\addplot[draw=none, mark=none, forget plot, unbounded coords=discard, error bars/.cd, y dir=both, y explicit, error mark=none, error bar style={draw=white, line width=1.2bp}]
  table[x=k, y expr={\thisrow{c}>\thisrow{o} ? (\thisrow{o}+\thisrow{c})/2 : nan}, y error expr={max((\thisrow{c}-\thisrow{o})/2-0.00004,0.000001)}] {\candles};
% forecast
\addplot[mtblue, line width=3.5bp, line join=round, forget plot] coordinates {(401.1,1.10536) (404,1.10318) (409.2,1.10656) (412.9,1.10522) (418.2,1.10869)};
% markers
\addplot[only marks, mark=x, mark size=3bp, draw=mtred, line width=1.5bp, forget plot] coordinates {(99.2,1.11021) (195,1.11095) (270,1.12203) (331,1.11391) (341,1.10892)};
\addplot[only marks, mark=triangle, mark size=3.2bp, draw=mtred, fill=white, line width=0.9bp, forget plot] coordinates {(74,1.10755) (125.6,1.10505) (193.5,1.10489) (262,1.11859)};
\addplot[only marks, mark=triangle, mark size=3.2bp, draw=mtred, fill=white, line width=0.9bp, mark options={rotate=180}, forget plot] coordinates {(281.7,1.12452)};
% anchors for labels
\coordinate (pb1) at (axis cs:467.675,1.12781);
\coordinate (pb2) at (axis cs:467.675,1.11679);
\coordinate (pb3) at (axis cs:467.675,1.11279);
\coordinate (pb4) at (axis cs:467.675,1.10765);
\coordinate (pb5) at (axis cs:467.675,1.10493);
\coordinate (pb6) at (axis cs:467.675,1.10429);
\coordinate (pb7) at (axis cs:467.675,1.10002);
\coordinate (pb8) at (axis cs:467.675,1.09551);
\coordinate (tb1) at (axis cs:3.08,1.09455);
\coordinate (tb2) at (axis cs:94.0,1.09455);
\coordinate (tb3) at (axis cs:165.1,1.09455);
\coordinate (tb4) at (axis cs:237.1,1.09455);
\node[anchor=center, inner sep=0pt] at (axis cs:1.75,1.12908) {\dejavu\fontsize{7bp}{8bp}\selectfont ▼};
\node[anchor=west, inner sep=0pt, font=\lbl] at (axis cs:3.9,1.12906) {USDCAD,H1\hspace{0.56em}1.10554 1.10564 1.10493 1.10493};
\node[anchor=west, inner sep=0pt, font=\lbl] at (axis cs:1.7,1.10445) {\#1739095044 buy limit 0.20};
\node[anchor=west, inner sep=0pt, font=\lbl] at (axis cs:1.7,1.10027) {\#1739095044 sl};
\node[anchor=east, inner sep=0pt, font=\fontsize{10.5bp}{12bp}\selectfont, text=vpdark] at (axis cs:465,1.12653) {VP GMT +2};
\node[anchor=center, inner sep=0pt, font=\fontsize{15.5bp}{18bp}\selectfont, text=mtred] at (axis cs:372,1.12336) {Copyright, 31 March 2014};
\node[anchor=center, inner sep=0pt, font=\fontsize{15.5bp}{18bp}\selectfont, text=mtred] at (axis cs:372.5,1.12239) {http://deas88.livejournal.com/};
\end{axis}
\node[pbox] at (pb1) {1.12781};
\node[pbox] at (pb2) {1.11679};
\node[pbox] at (pb3) {1.11279};
\node[pbox] at (pb4) {1.10765};
\node[pbox, fill=black] at (pb5) {1.10493};
\node[pbox] at (pb6) {1.10429};
\node[pbox] at (pb7) {1.10002};
\node[pbox] at (pb8) {1.09551};
\node[tbox] at (tb1) {2014.03.06 17:00};
\node[tbox] at (tb2) {2014.03.12 13:00};
\node[tbox] at (tb3) {2014.03.17 13:00};
\node[tbox] at (tb4) {2014.03.20 13:00};
\fill[gray!55] (0,0) rectangle (3bp,847bp);
\end{tikzpicture}
\end{document}
